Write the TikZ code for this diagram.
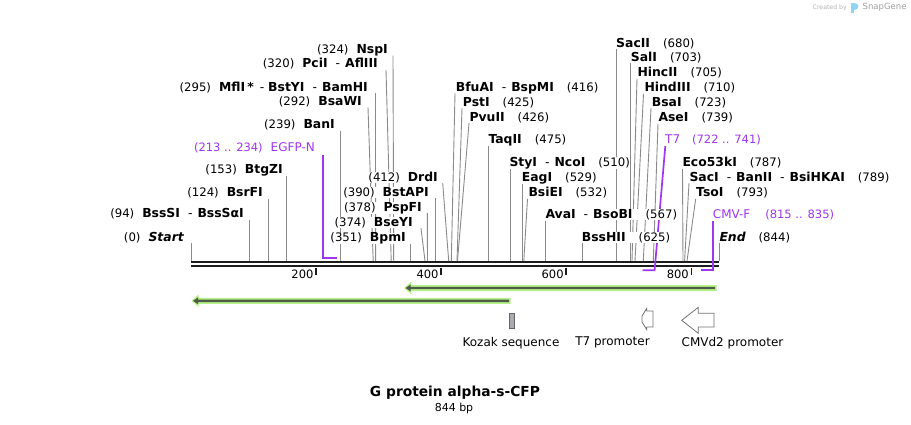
\documentclass[tikz,border=0pt]{standalone}
\usepackage{fontspec}
\setmainfont{DejaVu Sans}
\definecolor{cutgray}{HTML}{8A8A8A}
\definecolor{primer}{HTML}{A035F0}
\definecolor{halo}{HTML}{B6F28A}
\definecolor{core}{HTML}{505A48}
\definecolor{barblack}{HTML}{1C1C1C}
\definecolor{kozak}{HTML}{A8ACB1}
\definecolor{logoblue}{HTML}{8FD3F5}
\pgfdeclarelayer{lines}
\pgfsetlayers{lines,main}
\newcommand{\enz}[1]{{\fontsize{12.4}{14}\selectfont\bfseries #1}}
\newcommand{\dsh}{\hspace{8pt}{\mdseries -}\hspace{5pt}}
\newcommand{\cutleft}[7]{%
  \node[lbl, anchor=base east] (#1) at ({#2},{#3+4.5}) {(#6)\hspace{8pt}\enz{#7}};
  \coordinate (#1t) at ({#4},{#3+6.5});
  \coordinate (#1s) at ({#5},261);
  \begin{pgfonlayer}{lines}\draw[cut] (#1t) -- (#1s);\end{pgfonlayer}}
\newcommand{\cutright}[7]{%
  \node[lbl, anchor=base west] (#1) at ({#2},{#3+4.5}) {\enz{#7}\hspace{13pt}(#6)};
  \coordinate (#1t) at ({#4},{#3+6.5});
  \coordinate (#1s) at ({#5},261);
  \begin{pgfonlayer}{lines}\draw[cut] (#1t) -- (#1s);\end{pgfonlayer}}
\begin{document}
\begin{tikzpicture}[x=1pt,y=-1pt,
  lbl/.style={inner sep=0pt, fill=white, font=\fontsize{11.7}{13}\selectfont, text=black},
  cut/.style={draw=cutgray, line width=0.9pt},
  primerline/.style={draw=primer, line width=1.7pt},
  primerlbl/.style={inner sep=0pt, fill=white, font=\fontsize{11.5}{13}\selectfont, text=primer},
  bar/.style={draw=barblack, line width=2.3pt},
  tick/.style={draw=barblack, line width=1.8pt},
  ticklbl/.style={inner sep=0pt, font=\fontsize{11.5}{13}\selectfont, anchor=base east},
  featlbl/.style={inner sep=0pt, font=\fontsize{12}{14}\selectfont},
  promoter/.style={draw=black!55, line width=0.8pt, fill=white}]
\useasboundingbox (0,0) rectangle (911,424);

% sequence bar
\coordinate (ba0) at (191,262.2); \coordinate (ba1) at (719,262.2);
\coordinate (bb0) at (191,266.2); \coordinate (bb1) at (719,266.2);
\begin{pgfonlayer}{lines}
\draw[bar] (ba0) -- (ba1);
\draw[bar] (bb0) -- (bb1);
\end{pgfonlayer}

% ticks
\foreach \v/\x in {200/316.1,400/441.2,600/566.3,800/691.4}{
  \coordinate (k\v a) at (\x,267.5);
  \coordinate (k\v b) at (\x,275);
  \draw[tick] (k\v a) -- (k\v b);
  \node[ticklbl] (kl\v) at ({\x-2.5},278.6) {\v};
}

% left-side cut sites
\cutleft{n1}{184}{236.7}{191}{191}{0}{\itshape Start}
\cutleft{n2}{244}{213.3}{249.8}{249.8}{94}{BssSI\dsh BssSαI}
\cutleft{n3}{263}{192.3}{268.6}{268.6}{124}{BsrFI}
\cutleft{n4}{283}{169}{286.7}{286.7}{153}{BtgZI}
\cutleft{n5}{335}{124.3}{340.5}{340.5}{239}{BanI}
\cutleft{n6}{362}{101}{368}{373.2}{292}{BsaWI}
\cutleft{n7}{368}{86.7}{375.5}{375.6}{295}{MflI\,*\hspace{6pt}{\mdseries -}\hspace{4pt}BstYI\dsh BamHI}
\cutleft{n8}{378}{63.3}{386}{391.2}{320}{PciI\dsh AflIII}
\cutleft{n9}{388}{49}{393}{393.7}{324}{NspI}
\cutleft{n10}{406}{237.3}{410.6}{410.6}{351}{BpmI}
\cutleft{n11}{413}{221.7}{421}{425}{374}{BseYI}
\cutleft{n12}{422}{206.7}{427.3}{427.5}{378}{PspFI}
\cutleft{n13}{429}{191.7}{435}{435}{390}{BstAPI}
\cutleft{n14}{438}{176.7}{442.7}{448.7}{412}{DrdI}

% right-side cut sites
\cutright{m1}{455.7}{86.7}{455}{451.3}{416}{BfuAI\dsh BspMI}
\cutright{m2}{462.7}{101.7}{462}{457}{425}{PstI}
\cutright{m3}{469.3}{116.7}{469}{457.5}{426}{PvuII}
\cutright{m4}{488.3}{139}{488.2}{488.2}{475}{TaqII}
\cutright{m5}{509.3}{161.7}{510}{510}{510}{StyI\dsh NcoI}
\cutright{m6}{521.7}{176.7}{522}{522}{529}{EagI}
\cutright{m7}{528.3}{192.3}{527.5}{523.8}{532}{BsiEI}
\cutright{m8}{545.3}{214}{545.7}{545.7}{567}{AvaI\dsh BsoBI}
\cutright{m9}{581.7}{236.7}{582}{582}{625}{BssHII}
\cutright{m10}{616}{42.7}{616.4}{616.4}{680}{SacII}
\cutright{m11}{630.7}{56.7}{630.8}{630.8}{703}{SalI}
\cutright{m12}{637.3}{72.3}{637}{632}{705}{HincII}
\cutright{m13}{644.3}{87.3}{643.5}{635}{710}{HindIII}
\cutright{m14}{651.7}{101.7}{651}{643.3}{723}{BsaI}
\cutright{m15}{658.3}{117.3}{658}{653.3}{739}{AseI}
\cutright{m16}{682.3}{162.3}{682.5}{683}{787}{Eco53kI}
\cutright{m17}{689.3}{176.7}{689}{684.6}{789}{SacI\dsh BanII\dsh BsiHKAI}
\cutright{m18}{696}{192.3}{695.7}{687}{793}{TsoI}
\cutright{m19}{719.3}{236.7}{719}{719}{844}{\itshape End}

% primers
\node[primerlbl, anchor=base east] (p1) at (315,151.2) {(213 .. 234)\hspace{8pt}{\fontsize{12}{14}\selectfont EGFP-N}};
\coordinate (p1a) at (323.3,155); \coordinate (p1b) at (323.3,258); \coordinate (p1c) at (337.4,258);
\begin{pgfonlayer}{lines}\draw[primerline] (p1a) -- (p1b) -- (p1c);\end{pgfonlayer}

\node[primerlbl, anchor=base west] (p2) at (665,143.5) {{\fontsize{12}{14}\selectfont T7}\hspace{12pt}(722 .. 741)};
\coordinate (p2a) at (665.3,146); \coordinate (p2b) at (654.6,270.3); \coordinate (p2c) at (642.7,270.3);
\begin{pgfonlayer}{lines}\draw[primerline] (p2a) -- (p2b) -- (p2c);\end{pgfonlayer}

\node[primerlbl, anchor=base west] (p3) at (712.7,218.5) {{\fontsize{12}{14}\selectfont CMV-F}\hspace{15pt}(815 .. 835)};
\coordinate (p3a) at (712.7,221); \coordinate (p3b) at (712.7,270.3); \coordinate (p3c) at (700.9,270.3);
\begin{pgfonlayer}{lines}\draw[primerline] (p3a) -- (p3b) -- (p3c);\end{pgfonlayer}

% green feature arrows
\fill[halo] (404,288) -- (411,281.8) -- (411,285) -- (716.5,285) -- (716.5,291) -- (411,291) -- (411,294.2) -- cycle;
\fill[core] (405.5,288) -- (410.5,284.6) -- (410.5,286.8) -- (715,286.8) -- (715,289.2) -- (410.5,289.2) -- (410.5,291.4) -- cycle;
\fill[halo] (191.5,300.8) -- (198.5,294.6) -- (198.5,297.8) -- (510.7,297.8) -- (510.7,303.8) -- (198.5,303.8) -- (198.5,307) -- cycle;
\fill[core] (193,300.8) -- (198,297.4) -- (198,299.6) -- (509.2,299.6) -- (509.2,302) -- (198,302) -- (198,304.2) -- cycle;

% Kozak sequence
\node[draw=black!60, fill=kozak, line width=0.7pt, minimum width=5.5pt, minimum height=15pt, inner sep=0pt] (koz) at (511.8,320.5) {};
\node[featlbl] (kozl) at (511,342.7) {Kozak sequence};

% T7 promoter
\draw[promoter] (653,311) -- (646.8,311) -- (646.8,308.3) -- (642,316) -- (642,322) -- (646.8,329.7) -- (646.8,327) -- (653,327) -- cycle;
\node[featlbl] (t7l) at (612.5,342.7) {T7 promoter};

% CMVd2 promoter
\draw[promoter] (714,313.3) -- (698.3,313.3) -- (698.3,307.3) -- (681.7,320.3) -- (698.3,333.3) -- (698.3,327) -- (714,327) -- cycle;
\node[featlbl] (cmvl) at (732.5,342.7) {CMVd2 promoter};

% title
\node[inner sep=0pt, font=\fontsize{13.8}{15}\selectfont\bfseries] (title) at (455,393) {G protein alpha-s-CFP};
\node[inner sep=0pt, font=\fontsize{11}{12}\selectfont] (bp) at (454,408.5) {844 bp};

% watermark
\node[inner sep=0pt, anchor=east, font=\fontsize{6.2}{7}\selectfont, text=black!30] (cb) at (847,7.5) {Created by};
\fill[logoblue] (851,2.5) rectangle (853.8,13);
\fill[logoblue] (853.8,2.5) .. controls (859.5,2.5) and (859.5,9.5) .. (853.8,9.5) -- cycle;
\node[inner sep=0pt, anchor=west, font=\fontsize{8.5}{10}\selectfont, text=black!38] (sg) at (862.5,7.5) {SnapGene};
\end{tikzpicture}
\end{document}
